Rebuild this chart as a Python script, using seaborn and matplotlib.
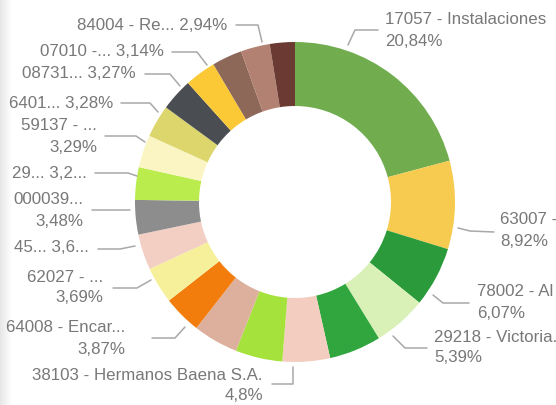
import matplotlib
matplotlib.use("Agg")
import matplotlib.pyplot as plt
import seaborn as sns
import numpy as np
from matplotlib.lines import Line2D

# ---- data ----
codes = ["17057", "63007", "78002", "29218", "(green)", "38103", "(lime)", "(rose)",
         "64008", "62027", "45", "000039", "29", "59137", "6401", "08731", "07010",
         "(brown)", "84004", "(dark brown)"]
shares = [20.84, 8.92, 6.07, 5.39, 5.25, 4.80, 4.75, 4.55,
          3.87, 3.69, 3.60, 3.48, 3.29, 3.29, 3.28, 3.27, 3.14,
          3.05, 2.94, 2.53]
colors = ["#71ad4f", "#f6cb4f", "#2b9a3b", "#d9f1b6", "#31a63f", "#f3cdbf", "#a6e23c", "#ddb09d",
          "#f27d0c", "#f6f09b", "#f2cfc2", "#8d8d8e", "#b9ec4c", "#fbf5c3", "#dcd66d", "#4a4d51", "#fbc935",
          "#8d6757", "#b38171", "#6b3b33"]
label_line1 = ["17057 - Instalaciones", "63007 -", "78002 - Al", "29218 - Victoria.", None,
               "38103 - Hermanos Baena S.A.", None, None,
               "64008 - Encar...", "62027 - ...", "45... 3,6...", "000039...", "29... 3,2...",
               "59137 - ...", "6401... 3,28%", "08731... 3,27%", "07010 -... 3,14%",
               None, "84004 - Re... 2,94%", None]
label_line2 = ["20,84%", "8,92%", "6,07%", "5,39%", None, "4,8%", None, None,
               "3,87%", "3,69%", None, "3,48%", None, "3,29%", None, None, None,
               None, None, None]

# ---- layout (pixels in a 556x405 canvas) ----
W, H = 556, 405
CX, CY, R = 295, 202, 160
# (text x, text y line1, align, leader points)
layout = {
    0: (385, 20, "left", [(378, 30), (355, 30), (348, 45)]),
    1: (500, 220, "left", [(494, 232), (470, 231), (458, 228)]),
    2: (477, 292, "left", [(469, 303), (443, 303), (433, 295)]),
    3: (434, 337, "left", [(427, 348), (405, 348), (393, 336)]),
    5: (263, 375, "right", [(272, 384), (293, 384), (293, 367)]),
    8: (125, 328, "right", [(152, 338), (175, 338), (185, 327)]),
    9: (103, 277, "right", [(113, 288), (137, 288), (151, 280)]),
    10: (89, 248, "right", [(98, 249), (120, 249), (135, 246)]),
    11: (83, 200, "right", [(92, 210), (130, 210)]),
    12: (87, 173, "right", [(95, 173), (128, 173), (137, 176)]),
    13: (97, 126, "right", [(105, 136), (136, 136), (145, 142)]),
    14: (113, 103, "right", [(121, 103), (150, 103), (158, 112)]),
    15: (136, 74, "right", [(145, 74), (170, 74), (180, 86)]),
    16: (164, 52, "right", [(172, 52), (197, 52), (207, 65)]),
    18: (227, 25, "right", [(236, 25), (258, 25), (262, 42)]),
}

sns.set_theme(style="white")
plt.rcParams["font.family"] = ["Liberation Sans Narrow", "Liberation Sans", "DejaVu Sans"]

fig = plt.figure(figsize=(W / 100, H / 100), dpi=100)
fig.patch.set_facecolor("white")

# faint gray strip at the left edge
gax = fig.add_axes([0, 0, 12 / W, 1])
grad = np.linspace(0.90, 1.0, 50).reshape(1, -1)
gax.imshow(grad, aspect="auto", cmap="gray", vmin=0, vmax=1, extent=[0, 1, 0, 1])
gax.axis("off")

ax = fig.add_axes([(CX - R) / W, (H - CY - R) / H, 2 * R / W, 2 * R / H])
ax.pie(shares, colors=colors, startangle=90, counterclock=False, radius=1.0,
       wedgeprops=dict(width=0.4, linewidth=0))
ax.set_xlim(-1, 1)
ax.set_ylim(-1, 1)
ax.set_aspect("equal")
ax.axis("off")

tcol = "#787878"
lcol = "#a8a8a8"
fs = 12.2
for i, (tx, ty, ha, pts) in layout.items():
    fig.text(tx / W, 1 - ty / H, label_line1[i], ha=ha, va="center",
             fontsize=fs, color=tcol)
    if label_line2[i]:
        fig.text(tx / W, 1 - (ty + 21) / H, label_line2[i], ha=ha, va="center",
                 fontsize=fs, color=tcol)
    xs = [p[0] / W for p in pts]
    ys = [1 - p[1] / H for p in pts]
    fig.add_artist(Line2D(xs, ys, color=lcol, linewidth=1.1, transform=fig.transFigure))

fig.savefig("out.png", dpi=100)
